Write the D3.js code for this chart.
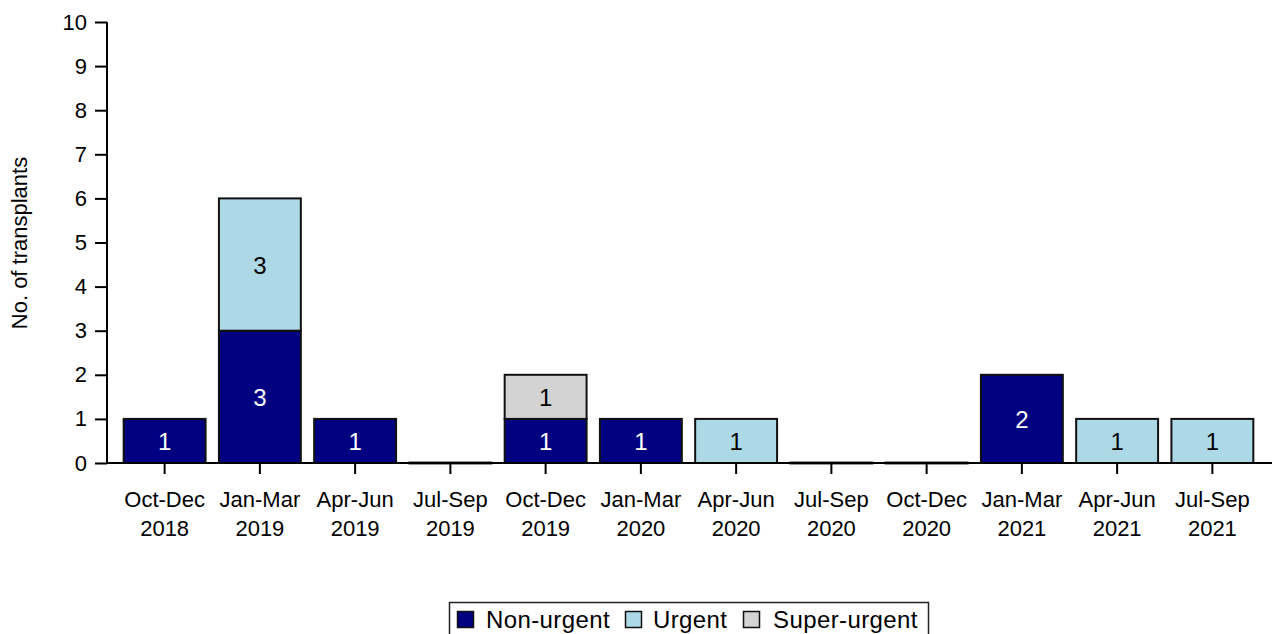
<!DOCTYPE html>
<html>
<head>
    <script type="text/javascript" src="https://d3js.org/d3.v7.min.js"></script>
    <style>
        body { margin: 0; background: #fff; }
        text { font-family: "Liberation Sans", Arial, sans-serif; }
    </style>
</head>
<body>
    <svg width="1272" height="634"></svg>
    <script>
        // quarters along the x axis, two label lines each
        const quarters = ["Oct-Dec", "Jan-Mar", "Apr-Jun", "Jul-Sep", "Oct-Dec", "Jan-Mar",
                          "Apr-Jun", "Jul-Sep", "Oct-Dec", "Jan-Mar", "Apr-Jun", "Jul-Sep"];
        const years = ["2018", "2019", "2019", "2019", "2019", "2020",
                       "2020", "2020", "2020", "2021", "2021", "2021"];
        const nonUrgent   = [1, 3, 1, 0, 1, 1, 0, 0, 0, 2, 0, 0];
        const urgent      = [0, 3, 0, 0, 0, 0, 1, 0, 0, 0, 1, 1];
        const superUrgent = [0, 0, 0, 0, 1, 0, 0, 0, 0, 0, 0, 0];
        const seriesNames = ["Non-urgent", "Urgent", "Super-urgent"];
        const colours = ["#000080", "#add8e6", "#d3d3d3"];
        const labelColours = ["#ffffff", "#000000", "#000000"];
        const yTicks = [0, 1, 2, 3, 4, 5, 6, 7, 8, 9, 10];

        const svg = d3.select("svg");
        const keys = quarters.map((q, i) => q + " " + years[i]);
        const rows = keys.map((k, i) => ({
            key: k, "Non-urgent": nonUrgent[i], "Urgent": urgent[i], "Super-urgent": superUrgent[i]
        }));

        let x = d3.scaleBand().domain(keys).range([117, 1260]).paddingInner(0.14).paddingOuter(0.07);
        let y = d3.scaleLinear().domain([0, 10]).range([463, 22]);

        const stacked = d3.stack().keys(seriesNames)(rows);

        // bars
        const layers = svg.append("g").selectAll("g")
            .data(stacked).enter().append("g")
            .attr("fill", (d, i) => colours[i]);

        layers.selectAll("rect")
            .data(d => d).enter().append("rect")
            .attr("x", d => x(d.data.key))
            .attr("width", x.bandwidth())
            .attr("y", d => y(d[1]))
            .attr("height", d => y(d[0]) - y(d[1]))
            .attr("stroke", "#111")
            .attr("stroke-width", 2);

        // empty quarters still show a flat bar on the baseline
        svg.append("g").selectAll("line")
            .data(rows.filter((r, i) => nonUrgent[i] + urgent[i] + superUrgent[i] === 0))
            .enter().append("line")
            .attr("x1", d => x(d.key) - 1).attr("x2", d => x(d.key) + x.bandwidth() + 1)
            .attr("y1", y(0)).attr("y2", y(0))
            .attr("stroke", "#333").attr("stroke-width", 3);

        // value labels in each segment
        stacked.forEach((layer, li) => {
            svg.append("g").selectAll("text")
                .data(layer.filter(d => d[1] - d[0] > 0)).enter().append("text")
                .attr("x", d => x(d.data.key) + x.bandwidth() / 2)
                .attr("y", d => (y(d[0]) + y(d[1])) / 2 + 9)
                .attr("text-anchor", "middle")
                .attr("font-size", 24)
                .attr("fill", labelColours[li])
                .text(d => d[1] - d[0]);
        });

        // y axis
        const yAxis = svg.append("g").attr("transform", "translate(107,0)")
            .call(d3.axisLeft(y).tickValues(yTicks).tickSize(12).tickPadding(8));
        yAxis.select(".domain").attr("stroke-width", 2).attr("d", "M0,22V463");
        yAxis.selectAll(".tick line").attr("stroke-width", 2);
        yAxis.selectAll("text").attr("font-size", 22).attr("fill", "#000")
            .attr("font-family", "Liberation Sans, Arial, sans-serif");

        // x axis
        const xAxis = svg.append("g").attr("transform", "translate(0,463)")
            .call(d3.axisBottom(x).tickSize(11).tickFormat(""));
        xAxis.select(".domain").attr("stroke-width", 2).attr("d", "M107,0H1272");
        xAxis.selectAll(".tick line").attr("stroke-width", 2);
        xAxis.selectAll(".tick").each(function(d, i) {
            const t = d3.select(this).append("text")
                .attr("text-anchor", "middle")
                .attr("font-size", 22)
                .attr("fill", "#000")
                .attr("font-family", "Liberation Sans, Arial, sans-serif");
            t.append("tspan").attr("x", 0).attr("y", 44).text(quarters[i]);
            t.append("tspan").attr("x", 0).attr("y", 73).text(years[i]);
        });

        // y axis title
        svg.append("text")
            .attr("transform", "translate(27,243) rotate(-90)")
            .attr("text-anchor", "middle")
            .attr("font-size", 22)
            .text("No. of transplants");

        // legend
        const legend = svg.append("g");
        legend.append("rect")
            .attr("x", 449.5).attr("y", 602.5).attr("width", 479).attr("height", 40)
            .attr("fill", "#fff").attr("stroke", "#222").attr("stroke-width", 1.5);
        const swatchX = [457, 625, 743];
        const legendTextX = [486, 653, 773];
        seriesNames.forEach((name, i) => {
            legend.append("rect")
                .attr("x", swatchX[i] + 0.5).attr("y", 611.5).attr("width", 16).attr("height", 16)
                .attr("fill", colours[i]).attr("stroke", "#111").attr("stroke-width", 1.5);
            legend.append("text")
                .attr("x", legendTextX[i]).attr("y", 628)
                .attr("font-size", 24)
                .attr("letter-spacing", 0.4)
                .text(name);
        });
    </script>
</body>
</html>
